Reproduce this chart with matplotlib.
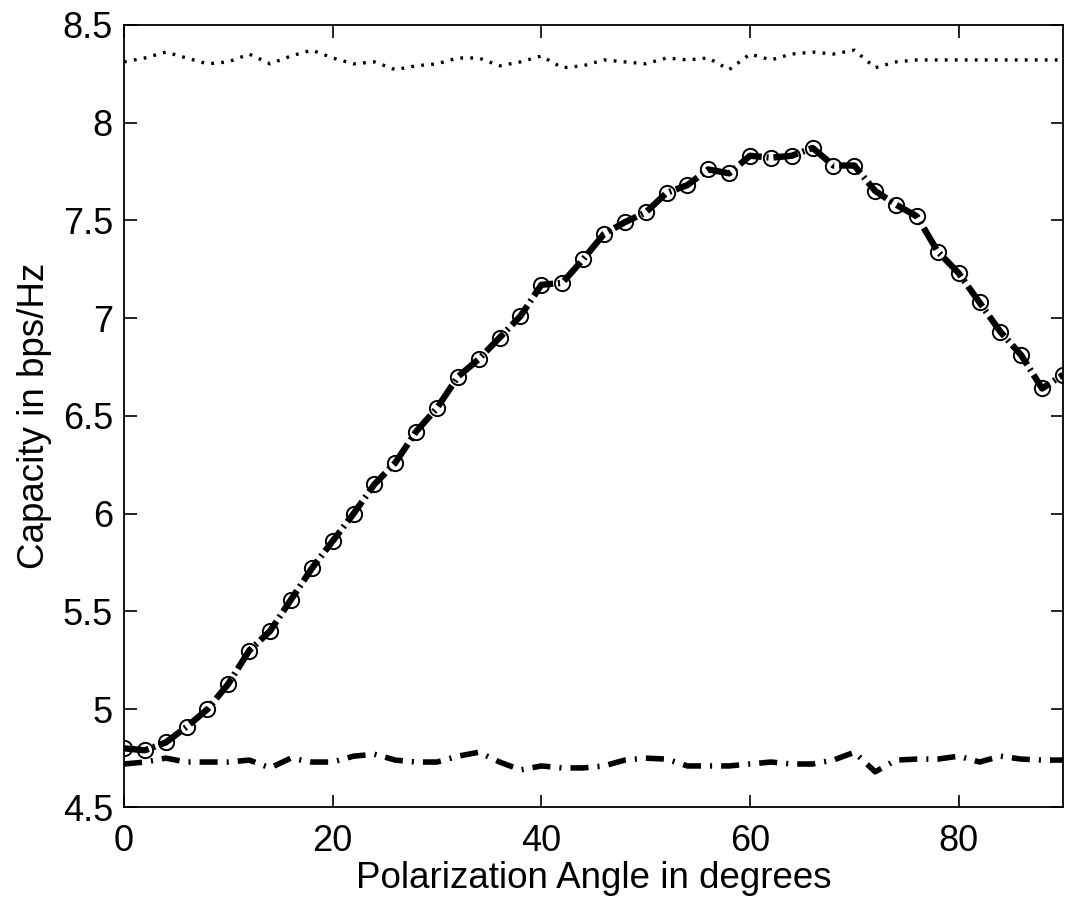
import matplotlib
matplotlib.use("Agg")
import matplotlib.pyplot as plt

plt.rcParams["font.family"] = ["Liberation Sans", "DejaVu Sans"]
plt.rcParams["lines.scale_dashes"] = False

# Polarization angle in degrees (sampled every 2 degrees)
angles = list(range(0, 91, 2))

# Upper dotted curve
upper = [8.31, 8.33, 8.36, 8.33, 8.30, 8.31, 8.35, 8.30, 8.34, 8.37,
         8.33, 8.30, 8.31, 8.27, 8.29, 8.30, 8.33, 8.33, 8.29, 8.31,
         8.34, 8.28, 8.29, 8.32, 8.31, 8.30, 8.33, 8.32, 8.33, 8.27,
         8.35, 8.32, 8.35, 8.36, 8.35, 8.37, 8.28, 8.31, 8.32, 8.32,
         8.32, 8.32, 8.32, 8.32, 8.32, 8.32]

# Middle curve (thick dash-dot with circle markers)
middle = [4.80, 4.79, 4.83, 4.91, 5.00, 5.13, 5.30, 5.40, 5.56, 5.72,
          5.86, 6.00, 6.15, 6.26, 6.42, 6.54, 6.70, 6.79, 6.90, 7.01,
          7.17, 7.18, 7.30, 7.43, 7.49, 7.54, 7.64, 7.68, 7.76, 7.74,
          7.83, 7.82, 7.83, 7.87, 7.78, 7.78, 7.65, 7.58, 7.52, 7.34,
          7.23, 7.08, 6.93, 6.81, 6.64, 6.71]

# Lower dash-dot curve
lower = [4.72, 4.73, 4.75, 4.73, 4.73, 4.73, 4.74, 4.70, 4.75, 4.73,
         4.73, 4.76, 4.77, 4.74, 4.73, 4.73, 4.76, 4.78, 4.73, 4.69,
         4.71, 4.70, 4.70, 4.71, 4.74, 4.75, 4.745, 4.71, 4.71, 4.71,
         4.72, 4.73, 4.72, 4.72, 4.74, 4.78, 4.68, 4.74, 4.745, 4.745,
         4.76, 4.73, 4.76, 4.745, 4.74, 4.74]

x_ticks = [0, 20, 40, 60, 80]
y_ticks = [4.5, 5, 5.5, 6, 6.5, 7, 7.5, 8, 8.5]
y_tick_labels = ["4.5", "5", "5.5", "6", "6.5", "7", "7.5", "8", "8.5"]

fig = plt.figure(figsize=(10.71, 9.02), dpi=100)
ax = fig.add_axes([0.1158, 0.1053, 0.8767, 0.8673])

ax.plot(angles, upper, color="k", linestyle=(0, (2.0, 5.2)), linewidth=2.4)
ax.plot(angles, lower, color="k", linestyle=(0, (13, 6.5, 1.5, 6.5)),
        linewidth=4.0)
ax.plot(angles, middle, color="k", linestyle="none", marker="o",
        markersize=11, markerfacecolor="white", markeredgecolor="k",
        markeredgewidth=1.4, zorder=2)
ax.plot(angles, middle, color="k", linestyle=(0, (18, 3.5, 1.5, 3.5)),
        linewidth=4.6, zorder=3)

ax.set_xlim(0, 90)
ax.set_ylim(4.5, 8.5)
ax.set_xticks(x_ticks)
ax.set_yticks(y_ticks)
ax.set_yticklabels(y_tick_labels)
ax.tick_params(direction="in", length=9, width=1.2, labelsize=26,
               top=True, right=True, pad=8)
ax.tick_params(axis="x", pad=12)
for spine in ax.spines.values():
    spine.set_linewidth(1.3)

ax.set_xlabel("Polarization Angle in degrees", fontsize=26.5, labelpad=2)
ax.set_ylabel("Capacity in bps/Hz", fontsize=26.5, labelpad=8)

fig.savefig("out.png", dpi=100)
